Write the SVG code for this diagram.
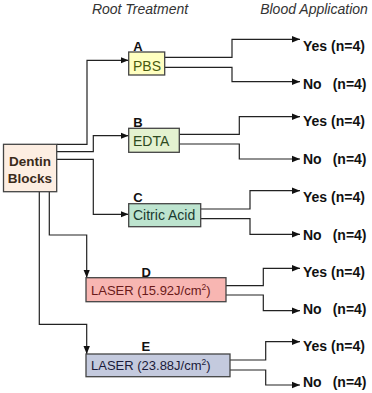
<svg xmlns="http://www.w3.org/2000/svg" width="372" height="393" viewBox="0 0 372 393">
<defs>
<marker id="ah" viewBox="0 0 8 8" refX="8" refY="4" markerWidth="8" markerHeight="8" markerUnits="userSpaceOnUse" orient="auto">
<path d="M0,0.8 L8,4 L0,7.2 Z" fill="#111"/>
</marker>
<style>
.hdr{font-family:"Liberation Sans",Arial,sans-serif;font-size:14px;font-style:italic;fill:#333}
.out{font-family:"Liberation Sans",Arial,sans-serif;font-size:14px;font-weight:bold;fill:#111}
.lbl{font-family:"Liberation Sans",Arial,sans-serif;font-size:13px;font-weight:bold;fill:#111}
.bx{font-family:"Liberation Sans",Arial,sans-serif;font-size:14px}
.bxl{font-family:"Liberation Sans",Arial,sans-serif;font-size:13px}
.box{stroke:#444;stroke-width:1.3}
.ca{fill:none;stroke:#222;stroke-width:1.2;marker-end:url(#ah)}
</style>
</defs>
<rect width="372" height="393" fill="#fff"/>
<text class="hdr" x="140" y="14" text-anchor="middle">Root Treatment</text>
<text class="hdr" x="314" y="14" text-anchor="middle">Blood Application</text>

<g id="connectors">
<polyline class="ca" points="57,144.3 87,144.3 87,60.3 128.5,60.3"/>
<polyline class="ca" points="57,151.7 93.3,151.7 93.3,135.7 128.5,135.7"/>
<polyline class="ca" points="57,159.3 93.3,159.3 93.3,214.3 128.5,214.3"/>
<polyline class="ca" points="49.3,191.7 49.3,235 86.7,235 86.7,277.7"/>
<polyline class="ca" points="39.3,191.7 39.3,324.3 86.7,324.3 86.7,354"/>

<polyline class="ca" points="164.7,57.3 232,57.3 232,39.3 300,39.3"/>
<polyline class="ca" points="164.7,67.3 232,67.3 232,81.7 300,81.7"/>
<polyline class="ca" points="179.3,134.3 239.3,134.3 239.3,116.7 300,116.7"/>
<polyline class="ca" points="179.3,144 239.3,144 239.3,159 300,159"/>
<polyline class="ca" points="200.7,209 250,209 250,190.7 300,190.7"/>
<polyline class="ca" points="200.7,218.7 250,218.7 250,234.3 300,234.3"/>
<polyline class="ca" points="226,285.7 263.3,285.7 263.3,268.3 300,268.3"/>
<polyline class="ca" points="226,295 263.3,295 263.3,310.7 300,310.7"/>
<polyline class="ca" points="230,360 265.7,360 265.7,341.7 300,341.7"/>
<polyline class="ca" points="230,370 265.7,370 265.7,385 300,385"/>
</g>

<g id="dentin">
<rect class="box" x="3.5" y="144.3" width="53.2" height="47.4" fill="#fdeee2"/>
<text x="30" y="165.5" text-anchor="middle" style="font-family:'Liberation Sans',Arial,sans-serif;font-size:13.5px;font-weight:bold;fill:#3a2a1a">Dentin</text>
<text x="30" y="182.5" text-anchor="middle" style="font-family:'Liberation Sans',Arial,sans-serif;font-size:13.5px;font-weight:bold;fill:#3a2a1a">Blocks</text>
</g>

<g id="nodeA">
<text class="lbl" x="133.3" y="51">A</text>
<rect class="box" x="128.7" y="52" width="36" height="23" fill="#ffffc0"/>
<text class="bx" x="133" y="70.5" fill="#4a5a10">PBS</text>
</g>

<g id="nodeB">
<text class="lbl" x="133.3" y="126.5">B</text>
<rect class="box" x="128.7" y="128.3" width="50.6" height="24" fill="#e4f2d0"/>
<text class="bx" x="133" y="146" fill="#2e4a20">EDTA</text>
</g>

<g id="nodeC">
<text class="lbl" x="133.3" y="202">C</text>
<rect class="box" x="128.7" y="203.7" width="72" height="23" fill="#bde4cf"/>
<text class="bx" x="133" y="220.3" fill="#1a3a30">Citric Acid</text>
</g>

<g id="nodeD">
<text class="lbl" x="141.5" y="277">D</text>
<rect class="box" x="86" y="277.7" width="140" height="24" fill="#f8b6b2"/>
<text class="bxl" x="91" y="294.5" fill="#6a1a1a">LASER (15.92J/cm<tspan dy="-5" font-size="8.5">2</tspan><tspan dy="5">)</tspan></text>
</g>

<g id="nodeE">
<text class="lbl" x="141.5" y="351">E</text>
<rect class="box" x="86" y="354" width="144" height="22.7" fill="#c4cade"/>
<text class="bxl" x="91" y="369.5" fill="#1a1a3a">LASER (23.88J/cm<tspan dy="-5" font-size="8.5">2</tspan><tspan dy="5">)</tspan></text>
</g>

<g id="outcomes">
<text class="out" x="303" y="51">Yes (n=4)</text>
<text class="out" x="303" y="89">No <tspan x="332.7">(n=4)</tspan></text>
<text class="out" x="303" y="126">Yes (n=4)</text>
<text class="out" x="303" y="164">No <tspan x="332.7">(n=4)</tspan></text>
<text class="out" x="303" y="201.5">Yes (n=4)</text>
<text class="out" x="303" y="239.5">No <tspan x="332.7">(n=4)</tspan></text>
<text class="out" x="303" y="276.5">Yes (n=4)</text>
<text class="out" x="303" y="313.5">No <tspan x="332.7">(n=4)</tspan></text>
<text class="out" x="303" y="350.5">Yes (n=4)</text>
<text class="out" x="303" y="387">No <tspan x="332.7">(n=4)</tspan></text>
</g>
</svg>
